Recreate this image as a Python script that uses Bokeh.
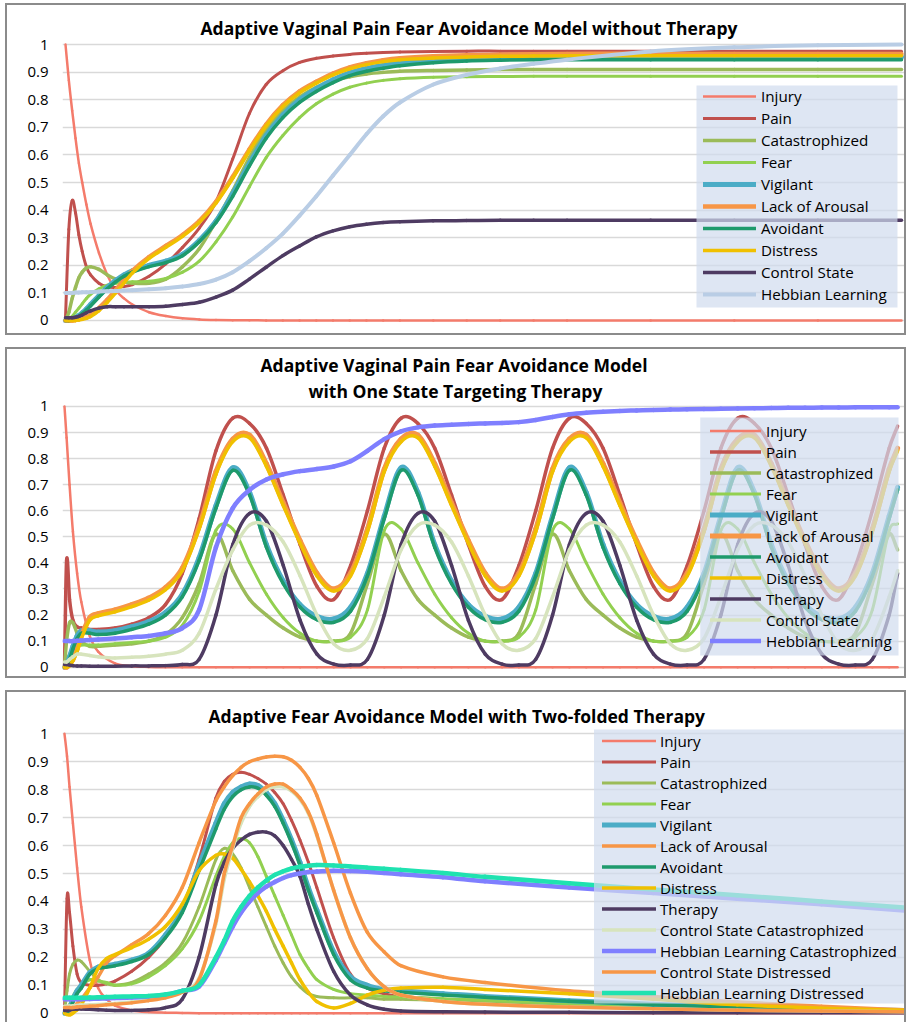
from bokeh.plotting import figure
from bokeh.models import (Range1d, FixedTicker, CustomJSTickFormatter, Title, BoxAnnotation,
                          Legend, LegendItem, ColumnDataSource)
from bokeh.layouts import column
from bokeh.embed import file_html
from bokeh.resources import INLINE

# ---------------------------------------------------------------- data
Y_TICKS = [0, 0.1, 0.2, 0.3, 0.4, 0.5, 0.6, 0.7, 0.8, 0.9, 1]

# Panel 1 : without therapy
P1_T = [0, 0.4, 0.8, 1.2, 1.6, 2, 2.5, 3, 4, 5, 6, 7, 8, 10, 12, 14, 16, 18, 20, 22,
        24, 26, 28, 30, 32, 34, 36, 38, 40, 44, 48, 52, 56, 60, 70, 80, 90, 100]
P1_INJURY = [1.0, 0.87, 0.76, 0.66, 0.57, 0.5, 0.42, 0.35, 0.245, 0.165, 0.11, 0.08, 0.058,
             0.03, 0.016, 0.008, 0.004, 0.002, 0.001, 0.001, 0, 0, 0, 0, 0, 0, 0, 0, 0,
             0, 0, 0, 0, 0, 0, 0, 0, 0]
P1_PAIN = [0.01, 0.33, 0.435, 0.39, 0.31, 0.25, 0.195, 0.165, 0.135, 0.122, 0.12, 0.123, 0.13,
           0.16, 0.205, 0.265, 0.335, 0.43, 0.585, 0.75, 0.855, 0.905, 0.935, 0.95, 0.958,
           0.964, 0.968, 0.971, 0.973, 0.975, 0.976, 0.976, 0.976, 0.976, 0.976, 0.976,
           0.976, 0.976]
P1_CATASTROPHIZED = [0, 0.03, 0.08, 0.12, 0.155, 0.175, 0.19, 0.195, 0.185, 0.165, 0.15, 0.14,
                     0.135, 0.135, 0.15, 0.195, 0.26, 0.36, 0.47, 0.59, 0.69, 0.76, 0.81, 0.845,
                     0.868, 0.883, 0.893, 0.899, 0.903, 0.906, 0.908, 0.909, 0.909, 0.909,
                     0.909, 0.909, 0.909, 0.909]
P1_FEAR = [0, 0.005, 0.015, 0.03, 0.045, 0.06, 0.08, 0.095, 0.115, 0.128, 0.135, 0.139, 0.14,
           0.142, 0.152, 0.175, 0.215, 0.285, 0.375, 0.485, 0.59, 0.67, 0.735, 0.785, 0.82,
           0.845, 0.86, 0.87, 0.876, 0.881, 0.883, 0.884, 0.885, 0.885, 0.885, 0.885, 0.885,
           0.885]
P1_VIGILANT = [0, 0, 0.004, 0.01, 0.018, 0.028, 0.042, 0.058, 0.09, 0.12, 0.145, 0.165, 0.18,
               0.2, 0.215, 0.24, 0.29, 0.36, 0.46, 0.57, 0.67, 0.745, 0.8, 0.84, 0.872, 0.897,
               0.913, 0.924, 0.933, 0.944, 0.95, 0.953, 0.955, 0.955, 0.955, 0.955, 0.955,
               0.955]
P1_AROUSAL = [0, 0, 0, 0.002, 0.005, 0.008, 0.013, 0.02, 0.045, 0.075, 0.11, 0.145, 0.18,
              0.23, 0.27, 0.31, 0.36, 0.43, 0.52, 0.62, 0.71, 0.78, 0.83, 0.865, 0.895, 0.917,
              0.932, 0.943, 0.95, 0.957, 0.961, 0.963, 0.965, 0.966, 0.966, 0.966, 0.966,
              0.966]
P1_AVOIDANT = [0, 0, 0.003, 0.008, 0.015, 0.025, 0.038, 0.053, 0.085, 0.115, 0.14, 0.16,
               0.175, 0.195, 0.21, 0.235, 0.285, 0.355, 0.45, 0.56, 0.66, 0.735, 0.79, 0.83,
               0.862, 0.887, 0.903, 0.914, 0.923, 0.934, 0.94, 0.943, 0.945, 0.945, 0.945,
               0.945, 0.945, 0.945]
P1_DISTRESS = [0, 0, 0, 0, 0.002, 0.004, 0.008, 0.014, 0.036, 0.066, 0.1, 0.136, 0.172,
               0.225, 0.265, 0.305, 0.355, 0.425, 0.515, 0.615, 0.705, 0.775, 0.825, 0.86,
               0.89, 0.912, 0.927, 0.938, 0.945, 0.951, 0.955, 0.957, 0.958, 0.959, 0.959,
               0.959, 0.959, 0.959]
P1_CONTROL = [0.01, 0.01, 0.01, 0.012, 0.015, 0.02, 0.028, 0.035, 0.045, 0.05, 0.05, 0.05,
              0.05, 0.05, 0.052, 0.058, 0.066, 0.085, 0.11, 0.15, 0.193, 0.235, 0.27, 0.303,
              0.325, 0.34, 0.349, 0.355, 0.358, 0.361, 0.362, 0.363, 0.363, 0.363, 0.363,
              0.363, 0.363, 0.363]
P1_HEBBIAN = [0.1, 0.1, 0.1, 0.101, 0.101, 0.102, 0.102, 0.103, 0.105, 0.106, 0.107, 0.109,
              0.11, 0.113, 0.117, 0.123, 0.132, 0.148, 0.175, 0.215, 0.262, 0.315, 0.38, 0.45,
              0.525, 0.6, 0.675, 0.74, 0.79, 0.855, 0.89, 0.913, 0.93, 0.945, 0.975, 0.99,
              0.997, 1.0]

# Panel 2 : one state targeting therapy
P2_T = [0, 0.25, 0.6, 1, 1.5, 2, 3, 4, 6, 8, 10, 12, 14, 16, 18,
        20, 22, 24, 26, 28, 30, 32, 34, 36, 38,
        40, 42, 44, 46, 48, 50, 52, 54, 56, 58,
        60, 62, 64, 66, 68, 70, 72, 74, 76, 78,
        80, 82, 84, 86, 88, 90, 92, 94, 96, 98, 99]
P2_INJURY = [1.0, 0.88, 0.7, 0.52, 0.36, 0.25, 0.12, 0.06, 0.015, 0.004, 0.001, 0, 0, 0, 0,
             0, 0, 0, 0, 0, 0, 0, 0, 0, 0,
             0, 0, 0, 0, 0, 0, 0, 0, 0, 0,
             0, 0, 0, 0, 0, 0, 0, 0, 0, 0,
             0, 0, 0, 0, 0, 0, 0, 0, 0, 0, 0]
P2_PAIN = [0.0, 0.41, 0.26, 0.18, 0.155, 0.15, 0.145, 0.145, 0.15, 0.165, 0.19, 0.24, 0.36, 0.57, 0.83,
           0.955, 0.935, 0.84, 0.66, 0.47, 0.31, 0.26, 0.39, 0.60, 0.84,
           0.955, 0.935, 0.84, 0.66, 0.47, 0.31, 0.26, 0.39, 0.60, 0.84,
           0.955, 0.935, 0.84, 0.66, 0.47, 0.31, 0.26, 0.39, 0.60, 0.84,
           0.955, 0.935, 0.84, 0.66, 0.47, 0.31, 0.26, 0.39, 0.60, 0.84, 0.925]
P2_CATASTROPHIZED = [0.0, 0.1, 0.17, 0.17, 0.13, 0.1, 0.08, 0.08, 0.085, 0.09, 0.1, 0.125, 0.19, 0.32, 0.51,
                     0.37, 0.26, 0.2, 0.15, 0.115, 0.10, 0.10, 0.13, 0.32, 0.51,
                     0.37, 0.26, 0.2, 0.15, 0.115, 0.10, 0.10, 0.13, 0.32, 0.51,
                     0.37, 0.26, 0.2, 0.15, 0.115, 0.10, 0.10, 0.13, 0.32, 0.51,
                     0.37, 0.26, 0.2, 0.15, 0.115, 0.10, 0.10, 0.13, 0.32, 0.51, 0.45]
P2_FEAR = [0.0, 0.02, 0.05, 0.07, 0.08, 0.085, 0.085, 0.085, 0.09, 0.095, 0.1, 0.115, 0.16, 0.29, 0.525,
           0.53, 0.40, 0.28, 0.19, 0.13, 0.10, 0.10, 0.115, 0.22, 0.525,
           0.53, 0.40, 0.28, 0.19, 0.13, 0.10, 0.10, 0.115, 0.22, 0.525,
           0.53, 0.40, 0.28, 0.19, 0.13, 0.10, 0.10, 0.115, 0.22, 0.525,
           0.53, 0.40, 0.28, 0.19, 0.13, 0.10, 0.10, 0.115, 0.22, 0.525, 0.55]
P2_VIGILANT = [0.0, 0.01, 0.04, 0.08, 0.12, 0.14, 0.14, 0.135, 0.14, 0.155, 0.175, 0.21, 0.28, 0.42, 0.62,
               0.765, 0.67, 0.47, 0.33, 0.24, 0.195, 0.185, 0.23, 0.36, 0.58,
               0.765, 0.67, 0.47, 0.33, 0.24, 0.195, 0.185, 0.23, 0.36, 0.58,
               0.765, 0.67, 0.47, 0.33, 0.24, 0.195, 0.185, 0.23, 0.36, 0.58,
               0.765, 0.67, 0.47, 0.33, 0.24, 0.195, 0.185, 0.23, 0.36, 0.58, 0.69]
P2_AROUSAL = [0.0, 0.0, 0.01, 0.03, 0.07, 0.12, 0.19, 0.205, 0.22, 0.24, 0.265, 0.305, 0.38, 0.54, 0.75,
              0.875, 0.89, 0.78, 0.63, 0.485, 0.36, 0.30, 0.36, 0.53, 0.76,
              0.875, 0.89, 0.78, 0.63, 0.485, 0.36, 0.30, 0.36, 0.53, 0.76,
              0.875, 0.89, 0.78, 0.63, 0.485, 0.36, 0.30, 0.36, 0.53, 0.76,
              0.875, 0.89, 0.78, 0.63, 0.485, 0.36, 0.30, 0.36, 0.53, 0.76, 0.84]
P2_AVOIDANT = [0.0, 0.005, 0.03, 0.07, 0.11, 0.13, 0.13, 0.125, 0.13, 0.145, 0.165, 0.2, 0.27, 0.41, 0.61,
               0.755, 0.66, 0.46, 0.32, 0.23, 0.182, 0.172, 0.215, 0.35, 0.57,
               0.755, 0.66, 0.46, 0.32, 0.23, 0.182, 0.172, 0.215, 0.35, 0.57,
               0.755, 0.66, 0.46, 0.32, 0.23, 0.182, 0.172, 0.215, 0.35, 0.57,
               0.755, 0.66, 0.46, 0.32, 0.23, 0.182, 0.172, 0.215, 0.35, 0.57, 0.68]
P2_DISTRESS = [0.0, 0.0, 0.005, 0.025, 0.06, 0.11, 0.18, 0.197, 0.212, 0.232, 0.257, 0.297, 0.37, 0.53, 0.74,
               0.865, 0.88, 0.77, 0.62, 0.475, 0.35, 0.292, 0.35, 0.52, 0.75,
               0.865, 0.88, 0.77, 0.62, 0.475, 0.35, 0.292, 0.35, 0.52, 0.75,
               0.865, 0.88, 0.77, 0.62, 0.475, 0.35, 0.292, 0.35, 0.52, 0.75,
               0.865, 0.88, 0.77, 0.62, 0.475, 0.35, 0.292, 0.35, 0.52, 0.75, 0.83]
P2_THERAPY = [0.01, 0.01, 0.008, 0.006, 0.005, 0.005, 0.004, 0.004, 0.004, 0.005, 0.005, 0.006, 0.01, 0.03, 0.2,
              0.47, 0.59, 0.56, 0.39, 0.18, 0.05, 0.012, 0.008, 0.03, 0.2,
              0.47, 0.59, 0.56, 0.39, 0.18, 0.05, 0.012, 0.008, 0.03, 0.2,
              0.47, 0.59, 0.56, 0.39, 0.18, 0.05, 0.012, 0.008, 0.03, 0.2,
              0.47, 0.59, 0.56, 0.39, 0.18, 0.05, 0.012, 0.008, 0.03, 0.2, 0.36]
P2_CONTROL = [0.02, 0.02, 0.03, 0.04, 0.05, 0.05, 0.045, 0.04, 0.035, 0.038, 0.042, 0.05, 0.065, 0.13, 0.3,
              0.45, 0.545, 0.545, 0.48, 0.35, 0.2, 0.09, 0.065, 0.11, 0.27,
              0.45, 0.545, 0.545, 0.48, 0.35, 0.2, 0.09, 0.065, 0.11, 0.27,
              0.45, 0.545, 0.545, 0.48, 0.35, 0.2, 0.09, 0.065, 0.11, 0.27,
              0.45, 0.545, 0.545, 0.48, 0.35, 0.2, 0.09, 0.065, 0.11, 0.27, 0.37]
P2_HEBBIAN = [0.1, 0.1, 0.1, 0.1, 0.101, 0.102, 0.104, 0.106, 0.11, 0.115, 0.12, 0.13, 0.15, 0.22, 0.46,
              0.61, 0.68, 0.72, 0.74, 0.752, 0.76, 0.77, 0.79, 0.83, 0.875,
              0.905, 0.92, 0.927, 0.93, 0.933, 0.935, 0.937, 0.94, 0.948, 0.96,
              0.97, 0.976, 0.98, 0.983, 0.985, 0.987, 0.988, 0.989, 0.99, 0.991,
              0.992, 0.993, 0.994, 0.995, 0.995, 0.996, 0.996, 0.997, 0.997, 0.997, 0.997]

# Panel 3 : two-folded therapy
P3_T = [0, 0.3, 0.6, 1, 1.5, 2, 3, 4, 5, 6, 8, 10, 12, 14, 16, 18, 19, 20, 21, 22, 23, 24,
        25, 26, 27, 28, 29, 30, 32, 34, 36, 38, 40, 45, 50, 60, 70, 80, 90, 100]
P3_INJURY = [1.0, 0.92, 0.81, 0.68, 0.52, 0.38, 0.19, 0.09, 0.05, 0.027, 0.01, 0.004, 0.002,
             0.001, 0, 0, 0, 0, 0, 0, 0, 0, 0, 0, 0, 0, 0, 0, 0, 0, 0, 0, 0, 0, 0, 0, 0, 0,
             0, 0]
P3_PAIN = [0.0, 0.41, 0.36, 0.24, 0.14, 0.11, 0.10, 0.10, 0.105, 0.115, 0.15, 0.2, 0.27, 0.37,
           0.55, 0.77, 0.83, 0.855, 0.862, 0.855, 0.84, 0.82, 0.79, 0.75, 0.69, 0.62, 0.54,
           0.45, 0.27, 0.14, 0.09, 0.07, 0.06, 0.05, 0.045, 0.035, 0.025, 0.018, 0.012, 0.008]
P3_CATASTROPHIZED = [0.0, 0.08, 0.14, 0.175, 0.19, 0.185, 0.15, 0.12, 0.105, 0.10, 0.11, 0.14,
                     0.18, 0.25, 0.38, 0.55, 0.59, 0.57, 0.52, 0.45, 0.38, 0.31, 0.24, 0.18,
                     0.13, 0.095, 0.07, 0.06, 0.055, 0.055, 0.055, 0.05, 0.05, 0.045, 0.04,
                     0.03, 0.022, 0.015, 0.01, 0.006]
P3_FEAR = [0.0, 0.01, 0.03, 0.06, 0.085, 0.1, 0.12, 0.115, 0.11, 0.10, 0.105, 0.13, 0.17, 0.23,
           0.33, 0.49, 0.56, 0.61, 0.625, 0.61, 0.56, 0.49, 0.42, 0.35, 0.28, 0.21, 0.16, 0.12,
           0.085, 0.07, 0.065, 0.06, 0.058, 0.052, 0.046, 0.035, 0.025, 0.017, 0.011, 0.007]
P3_VIGILANT = [0.0, 0.005, 0.015, 0.05, 0.08, 0.1, 0.145, 0.165, 0.17, 0.175, 0.19, 0.215,
               0.28, 0.37, 0.53, 0.68, 0.75, 0.79, 0.81, 0.82, 0.815, 0.79, 0.75, 0.69, 0.62,
               0.54, 0.45, 0.37, 0.22, 0.13, 0.10, 0.085, 0.08, 0.07, 0.06, 0.045, 0.032,
               0.022, 0.015, 0.01]
P3_AROUSAL = [0.0, 0.0, 0.005, 0.02, 0.035, 0.05, 0.09, 0.13, 0.18, 0.205, 0.245, 0.285, 0.35,
              0.45, 0.61, 0.76, 0.81, 0.85, 0.88, 0.90, 0.91, 0.917, 0.92, 0.918, 0.905, 0.88,
              0.84, 0.78, 0.61, 0.43, 0.29, 0.22, 0.17, 0.13, 0.11, 0.08, 0.06, 0.04, 0.025,
              0.012]
P3_AVOIDANT = [0.0, 0.004, 0.012, 0.04, 0.07, 0.09, 0.14, 0.16, 0.165, 0.17, 0.185, 0.21,
               0.27, 0.36, 0.51, 0.66, 0.73, 0.775, 0.80, 0.81, 0.805, 0.78, 0.74, 0.68, 0.61,
               0.53, 0.44, 0.36, 0.21, 0.12, 0.09, 0.08, 0.075, 0.065, 0.057, 0.043, 0.03,
               0.02, 0.013, 0.008]
P3_DISTRESS = [0.0, -0.005, -0.008, 0.0, 0.012, 0.03, 0.09, 0.16, 0.195, 0.21, 0.235, 0.265,
               0.31, 0.39, 0.51, 0.565, 0.57, 0.555, 0.515, 0.47, 0.42, 0.365, 0.3, 0.24,
               0.18, 0.12, 0.075, 0.042, 0.019, 0.035, 0.065, 0.082, 0.09, 0.093, 0.085,
               0.07, 0.05, 0.03, 0.018, 0.01]
P3_THERAPY = [0.01, 0.01, 0.012, 0.014, 0.015, 0.015, 0.014, 0.012, 0.011, 0.01, 0.01, 0.012,
              0.02, 0.05, 0.2, 0.46, 0.54, 0.59, 0.62, 0.64, 0.648, 0.648, 0.635, 0.6, 0.55,
              0.49, 0.39, 0.3, 0.15, 0.065, 0.03, 0.014, 0.008, 0.005, 0.004, 0.003, 0.002,
              0.002, 0.002, 0.002]
P3_CONTROL_CAT = [0.025, 0.025, 0.026, 0.027, 0.028, 0.029, 0.03, 0.031, 0.033, 0.035, 0.04,
                  0.047, 0.057, 0.078, 0.125, 0.32, 0.48, 0.59, 0.68, 0.74, 0.775, 0.8, 0.81,
                  0.81, 0.795, 0.765, 0.715, 0.635, 0.44, 0.27, 0.16, 0.095, 0.065, 0.042,
                  0.032, 0.022, 0.016, 0.011, 0.008, 0.005]
P3_HEBBIAN_CAT = [0.05, 0.05, 0.05, 0.05, 0.05, 0.05, 0.051, 0.052, 0.053, 0.054, 0.056, 0.06,
                  0.065, 0.08, 0.095, 0.19, 0.25, 0.31, 0.36, 0.40, 0.43, 0.453, 0.47, 0.484,
                  0.494, 0.5, 0.505, 0.507, 0.51, 0.509, 0.506, 0.502, 0.497, 0.487, 0.472,
                  0.45, 0.43, 0.41, 0.39, 0.367]
P3_CONTROL_DIS = [0.02, 0.02, 0.02, 0.02, 0.022, 0.023, 0.025, 0.027, 0.03, 0.032, 0.037,
                  0.045, 0.055, 0.075, 0.12, 0.33, 0.5, 0.6, 0.7, 0.75, 0.785, 0.81, 0.82,
                  0.82, 0.80, 0.77, 0.72, 0.64, 0.44, 0.27, 0.16, 0.095, 0.065, 0.042, 0.032,
                  0.022, 0.016, 0.011, 0.008, 0.005]
P3_HEBBIAN_DIS = [0.055, 0.055, 0.055, 0.055, 0.055, 0.055, 0.056, 0.057, 0.058, 0.059, 0.06,
                  0.062, 0.067, 0.08, 0.1, 0.2, 0.26, 0.33, 0.38, 0.42, 0.45, 0.475, 0.495,
                  0.508, 0.518, 0.524, 0.528, 0.53, 0.529, 0.525, 0.521, 0.517, 0.513, 0.502,
                  0.488, 0.465, 0.443, 0.422, 0.4, 0.378]

# ---------------------------------------------------------------- style
C_INJURY = "#f47b6b"
C_PAIN = "#c0504d"
C_CAT = "#9bbb59"
C_FEAR = "#92d050"
C_VIG = "#4bacc6"
C_AROUSAL = "#f79646"
C_AVOID = "#1e9a6c"
C_DISTRESS = "#f0c000"
C_PURPLE = "#4e3b62"
C_HEBB1 = "#b9cde5"
C_PALE = "#d7e4bd"
C_HEBB2 = "#7f7fff"
C_HLD = "#1fe2b0"

FONT = "Open Sans"


def smooth_segments(xs, ys):
    """Cubic Bezier (Catmull-Rom style) segments through the data points, like a smoothed line."""
    n = len(xs)
    h = [xs[i + 1] - xs[i] for i in range(n - 1)]
    m = [0.0] * n
    m[0] = (ys[1] - ys[0]) / h[0]
    m[-1] = (ys[-1] - ys[-2]) / h[-1]
    for i in range(1, n - 1):
        m[i] = (ys[i + 1] - ys[i - 1]) / (xs[i + 1] - xs[i - 1])
    seg = dict(x0=[], y0=[], x1=[], y1=[], cx0=[], cy0=[], cx1=[], cy1=[])
    for i in range(n - 1):
        seg["x0"].append(xs[i]); seg["y0"].append(ys[i])
        seg["x1"].append(xs[i + 1]); seg["y1"].append(ys[i + 1])
        seg["cx0"].append(xs[i] + h[i] / 3.0); seg["cy0"].append(ys[i] + m[i] * h[i] / 3.0)
        seg["cx1"].append(xs[i + 1] - h[i] / 3.0); seg["cy1"].append(ys[i + 1] - m[i + 1] * h[i] / 3.0)
    return seg


def make_panel(width, height, mbl, mbr, mbt, mbb, xr, yr, styles):
    p = figure(width=width, height=height, x_range=Range1d(*xr), y_range=Range1d(*yr),
               output_backend="svg", toolbar_location=None, x_axis_location=None,
               min_border_left=mbl, min_border_right=mbr, min_border_top=mbt,
               min_border_bottom=mbb, background_fill_color="white",
               border_fill_color="white")
    p.styles = styles
    p.outline_line_color = None
    p.xgrid.visible = False
    ax = p.yaxis[0]
    ax.ticker = FixedTicker(ticks=Y_TICKS)
    ax.formatter = CustomJSTickFormatter(code="return String(Math.round(tick*10)/10);")
    ax.axis_line_color = None
    ax.major_tick_line_color = None
    ax.minor_tick_line_color = None
    ax.major_tick_out = 0
    ax.major_tick_in = 0
    ax.major_label_standoff = 14
    ax.major_label_text_font = FONT
    ax.major_label_text_font_size = "15px"
    ax.major_label_text_color = "#000000"
    p.ygrid.grid_line_color = "#d9d9d9"
    p.ygrid.grid_line_width = 1.6
    return p


def add_series(p, xs, series):
    items = []
    for name, ys, color, lw in series:
        r = p.bezier(x0="x0", y0="y0", x1="x1", y1="y1", cx0="cx0", cy0="cy0",
                     cx1="cx1", cy1="cy1", source=ColumnDataSource(smooth_segments(xs, ys)),
                     line_color=color, line_width=lw, line_cap="round")
        items.append(LegendItem(label=name, renderers=[r]))
    return items


def add_legend(p, items, box, loc, row_h, glyph_w, standoff):
    left, right, bottom, top = box
    p.add_layout(BoxAnnotation(left=left, right=right, bottom=bottom, top=top,
                               fill_color="#d0dcee", fill_alpha=0.7, line_color=None))
    lg = Legend(items=items, location=loc, orientation="vertical",
                background_fill_alpha=0, border_line_color=None, label_text_font=FONT,
                label_text_font_size="15.2px", label_text_color="#000000",
                glyph_width=glyph_w, glyph_height=row_h, label_height=row_h,
                spacing=0, padding=0, label_standoff=standoff, margin=0)
    p.add_layout(lg)


def add_title(p, text, offset, standoff):
    p.add_layout(Title(text=text, align="left", offset=offset, standoff=standoff,
                       text_font=FONT, text_font_style="bold", text_font_size="17.5px",
                       text_color="#000000"), "above")


BORDER = {"border": "2px solid #8b8b8b"}
BORDER_OPEN = {"border": "2px solid #8b8b8b", "border-bottom": "none"}

# ---------------------------------------------------------------- panel 1
p1 = make_panel(901, 332, 55, 3, 35, 13, (-0.359, 100.48), (-0.0145, 1.0145), BORDER)
s1 = [("Injury", P1_INJURY, C_INJURY, 2.5),
      ("Pain", P1_PAIN, C_PAIN, 3),
      ("Catastrophized", P1_CATASTROPHIZED, C_CAT, 3.5),
      ("Fear", P1_FEAR, C_FEAR, 3),
      ("Vigilant", P1_VIGILANT, C_VIG, 5),
      ("Lack of Arousal", P1_AROUSAL, C_AROUSAL, 4.5),
      ("Avoidant", P1_AVOIDANT, C_AVOID, 3.5),
      ("Distress", P1_DISTRESS, C_DISTRESS, 3.5),
      ("Control State", P1_CONTROL, C_PURPLE, 3.5),
      ("Hebbian Learning", P1_HEBBIAN, C_HEBB1, 4)]
add_legend(p1, add_series(p1, P1_T, s1), (75.48, 99.52, 0.0471, 0.8514), (641, 19), 22, 53, 5)
add_title(p1, "Adaptive Vaginal Pain Fear Avoidance Model without Therapy", 138, 2)

# ---------------------------------------------------------------- panel 2
p2 = make_panel(901, 331, 52, 3, 53, 10, (-0.237, 99.94), (-0.0127, 1.0153), BORDER)
s2 = [("Injury", P2_INJURY, C_INJURY, 2.5),
      ("Pain", P2_PAIN, C_PAIN, 3.5),
      ("Catastrophized", P2_CATASTROPHIZED, C_CAT, 3.5),
      ("Fear", P2_FEAR, C_FEAR, 3),
      ("Vigilant", P2_VIGILANT, C_VIG, 5),
      ("Lack of Arousal", P2_AROUSAL, C_AROUSAL, 5),
      ("Avoidant", P2_AVOIDANT, C_AVOID, 3.5),
      ("Distress", P2_DISTRESS, C_DISTRESS, 3.5),
      ("Therapy", P2_THERAPY, C_PURPLE, 3.5),
      ("Control State", P2_CONTROL, C_PALE, 3.5),
      ("Hebbian Learning", P2_HEBBIAN, C_HEBB2, 4.5)]
add_legend(p2, add_series(p2, P2_T, s2), (75.55, 99.11, 0.0449, 0.9578), (648, 19), 21, 51, 5)
add_title(p2, "with One State Targeting Therapy", 246, 0)
add_title(p2, "Adaptive Vaginal Pain Fear Avoidance Model", 198, 0)

# ---------------------------------------------------------------- panel 3
p3 = make_panel(901, 332, 51, 3, 37, 8, (-0.237, 100.0), (-0.0118, 1.0154), BORDER_OPEN)
s3 = [("Injury", P3_INJURY, C_INJURY, 2.5),
      ("Pain", P3_PAIN, C_PAIN, 3),
      ("Catastrophized", P3_CATASTROPHIZED, C_CAT, 3),
      ("Fear", P3_FEAR, C_FEAR, 3),
      ("Vigilant", P3_VIGILANT, C_VIG, 5),
      ("Lack of Arousal", P3_AROUSAL, C_AROUSAL, 3.5),
      ("Avoidant", P3_AVOIDANT, C_AVOID, 3.5),
      ("Distress", P3_DISTRESS, C_DISTRESS, 3.5),
      ("Therapy", P3_THERAPY, C_PURPLE, 3.5),
      ("Control State Catastrophized", P3_CONTROL_CAT, C_PALE, 3.5),
      ("Hebbian Learning Catastrophized", P3_HEBBIAN_CAT, C_HEBB2, 4.5),
      ("Control State Distressed", P3_CONTROL_DIS, C_AROUSAL, 3.5),
      ("Hebbian Learning Distressed", P3_HEBBIAN_DIS, C_HLD, 4.5)]
add_legend(p3, add_series(p3, P3_T, s3), (62.96, 100.0, 0.0347, 1.0226), (540, 13), 21, 54, 4)
add_title(p3, "Adaptive Fear Avoidance Model with Two-folded Therapy", 146, 3)

layout = column(p1, p2, p3, spacing=12, margin=(3, 0, 0, 5))
open("out.html", "w").write(file_html(layout, INLINE))
